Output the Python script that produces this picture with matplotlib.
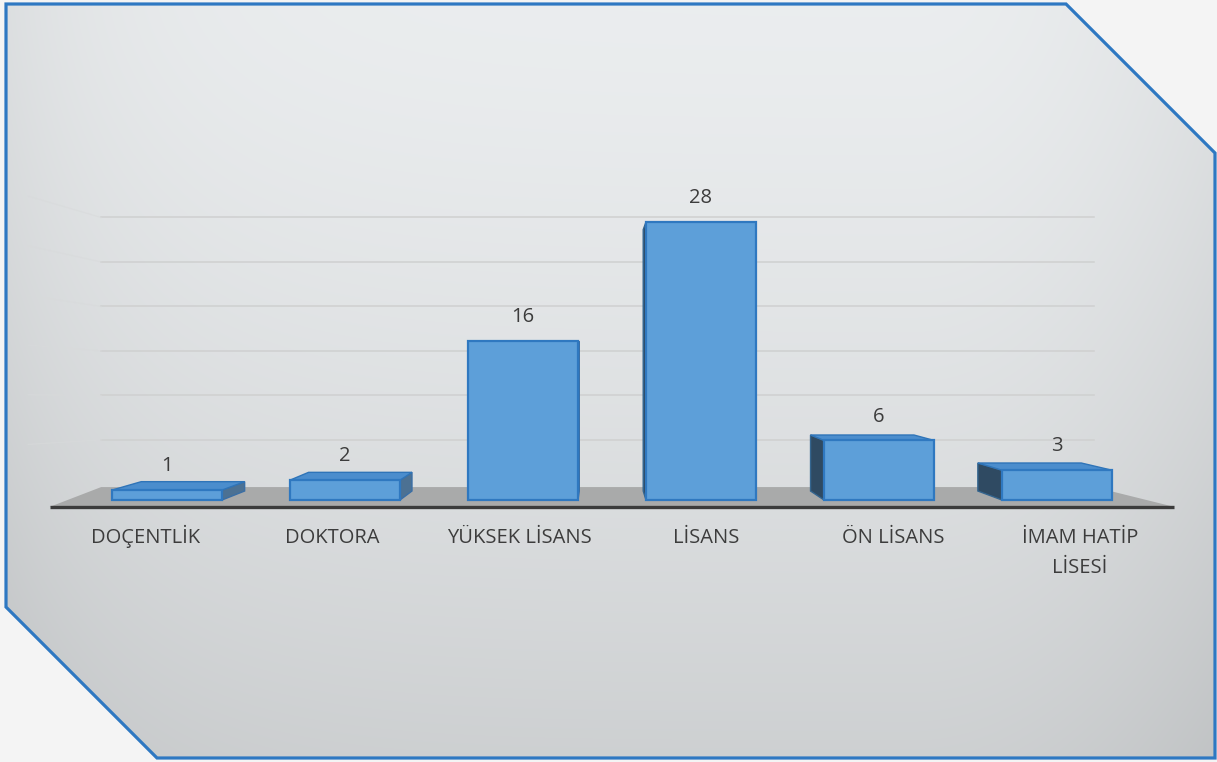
import numpy as np
import matplotlib
matplotlib.use("Agg")
import matplotlib.pyplot as plt
from matplotlib.patches import Polygon

# data
categories = ["DOÇENTLİK", "DOKTORA", "YÜKSEK LİSANS", "LİSANS", "ÖN LİSANS", "İMAM HATİP\nLİSESİ"]
values = [1, 2, 16, 28, 6, 3]
grid_values = [5, 10, 15, 20, 25, 30]

plt.rcParams['font.family'] = ['Open Sans', 'DejaVu Sans']

W, H = 1217, 762
fig = plt.figure(figsize=(W / 100, H / 100), dpi=100)
fig.patch.set_facecolor('#f4f4f4')

# ---- background panel with cut corners (pixel coords)
ax_bg = fig.add_axes([0, 0, 1, 1])
ax_bg.set_xlim(0, W)
ax_bg.set_ylim(H, 0)
ax_bg.axis('off')

yy, xx = np.mgrid[0:H, 0:W].astype(float)
u = xx / W
t = yy / H
g = 0.93 - 0.115 * t ** 1.4
g = g - 0.06 * np.exp(-xx / 120) - 0.05 * np.clip((u - 0.75) / 0.25, 0, 1) ** 2
img = np.dstack([g - 0.01, g, g + 0.006])
img = np.clip(img, 0, 1)
im = ax_bg.imshow(img, extent=(0, W, H, 0), aspect='auto', zorder=0)
frame_pts = [(6, 4), (1066, 4), (1215, 153), (1215, 758), (157, 758), (6, 607)]
clip = Polygon(frame_pts, closed=True, transform=ax_bg.transData)
im.set_clip_path(clip)
ax_bg.add_patch(Polygon(frame_pts, closed=True, fill=False, edgecolor='#2e78c2', linewidth=2.3, zorder=5))

# ---- chart axes, mapped so that the front plane matches the layout
PX0, PXS, PY0, PYS = 167, 178, 500, 9.93
ax = fig.add_axes([0, 0, 1, 1], zorder=2)
ax.patch.set_alpha(0)
ax.set_xlim((0 - PX0) / PXS, (W - PX0) / PXS)
ax.set_ylim((PY0 - H) / PYS, PY0 / PYS)
ax.axis('off')

VX, VY = 2.43, 15.1      # vanishing point
S_WALL = 0.896           # back wall scale
S_BAR = 0.94             # bar depth scale
BW = 0.618               # bar width
FL, FR = -0.66, 5.66     # floor front extent
WL, WR = -0.37, 5.21     # back wall extent


def proj(x, y, s):
    return VX + (x - VX) * s, VY + (y - VY) * s


# back wall gridlines and faint side wall lines
for gv in grid_values:
    gy = VY + (gv - VY) * S_WALL
    ax.plot([WL, WR], [gy, gy], color='#cfd0d0', lw=1.1, zorder=1)
    ax.plot([FL - 0.12, WL], [gv + 0.6, gy], color='#d8dadb', lw=0.9, alpha=0.6, zorder=1)

# floor
fy = VY + (-0.3 - VY) * S_WALL
ax.add_patch(Polygon([(FL, -0.7), (FR, -0.7), (WR, fy), (WL, fy)], closed=True,
                     facecolor='#a9aaaa', edgecolor='none', zorder=2))
ax.plot([FL, FR], [-0.7, -0.7], color='#3b3b3b', lw=2.4, zorder=3, solid_capstyle='butt')

# bars
for i, v in enumerate(values):
    x0, x1 = i - BW / 2, i + BW / 2
    if x1 < VX:
        side = [(x1, 0), (x1, v), proj(x1, v, S_BAR), proj(x1, 0, S_BAR)]
        ax.add_patch(Polygon(side, closed=True, facecolor='#4c7193', edgecolor='#3a6ea5', lw=1, zorder=4))
    if x0 > VX:
        side = [(x0, 0), (x0, v), proj(x0, v, S_BAR), proj(x0, 0, S_BAR)]
        ax.add_patch(Polygon(side, closed=True, facecolor='#2f4a62', edgecolor='#34658f', lw=1, zorder=4))
    if v < VY:
        top = [(x0, v), (x1, v), proj(x1, v, S_BAR), proj(x0, v, S_BAR)]
        ax.add_patch(Polygon(top, closed=True, facecolor='#4b8dcd', edgecolor='#2f74b8', lw=1, zorder=4))
    front = [(x0, 0), (x1, 0), (x1, v), (x0, v)]
    ax.add_patch(Polygon(front, closed=True, facecolor='#5d9fd9', edgecolor='#2f78c0', lw=1.6, zorder=5))
    ax.annotate(str(v), (i, v), xytext=(0, 13.5), textcoords='offset points',
                ha='center', va='baseline', fontsize=14.5, color='#3c3c3c', zorder=6)

# category labels, spread slightly in perspective; one text per line
for i, c in enumerate(categories):
    lx = VX + (i - VX) * 1.05
    for k, line in enumerate(c.split('\n')):
        ax.text(lx, -4.33 - k * 3.02, line, ha='center', va='baseline', fontsize=14.5,
                color='#3c3c3c', zorder=6)

fig.savefig('out.png', dpi=100, facecolor=fig.get_facecolor())
